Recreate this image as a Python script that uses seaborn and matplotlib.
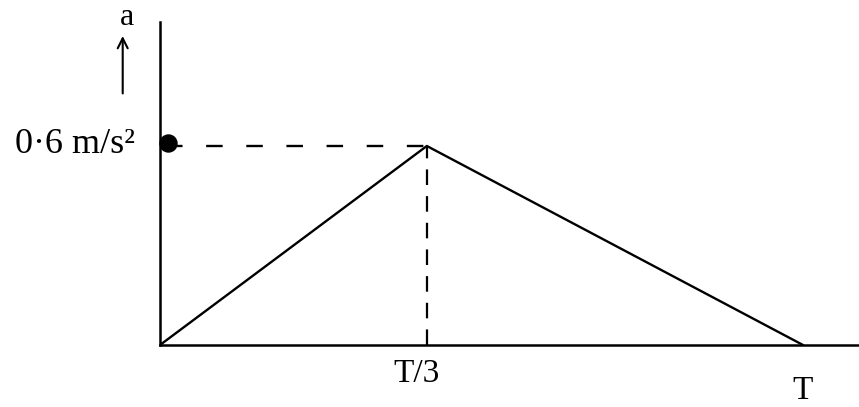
import numpy as np
import pandas as pd
import matplotlib
matplotlib.use("Agg")
import matplotlib.pyplot as plt
import matplotlib.transforms as mtransforms
import seaborn as sns

# acceleration-time graph, t as drawn (in units of T; the peak is labelled T/3)
t_pts = [0, 0.415, 1]
a_pts = [0, 0.6, 0]
a_peak = 0.6
t_peak = 0.415
tick_pos = [0.415, 1]
tick_labels = ["T/3", "T"]

sns.set_theme(style="white")
plt.rcParams['font.family'] = ['Liberation Serif', 'DejaVu Serif']
plt.rcParams['text.color'] = 'black'
plt.rcParams['xtick.color'] = 'black'

fig = plt.figure(figsize=(8.59, 4.07), dpi=100)
ax = fig.add_axes([160/859, 62/407, 699/859, 323/407])

df = pd.DataFrame({"t": t_pts, "a": a_pts})
sns.lineplot(data=df, x="t", y="a", ax=ax, color="black", linewidth=1.7, sort=False)

# dashed guides to the peak
ax.plot([0.01, t_peak], [a_peak, a_peak], ls=(0, (7, 10)), color="black", lw=1.7)
ax.plot([t_peak, t_peak], [0, a_peak], ls=(0, (7, 5)), color="black", lw=1.6)
ax.scatter([0.012], [a_peak + 0.01], s=150, color="black", zorder=5, clip_on=False)

ax.set_xlim(0, 699/643)
ax.set_ylim(0, 323/331.7)
sns.despine(ax=ax)
for s in ["left", "bottom"]:
    ax.spines[s].set_color("black")
    ax.spines[s].set_linewidth(1.8)
ax.set_xticks(tick_pos)
ax.set_xticklabels(tick_labels, fontsize=24, color="black")
ax.tick_params(axis="x", length=0, pad=10)
ax.get_xticklabels()[1].set_y(-0.05)
lab0 = ax.get_xticklabels()[0]
lab0.set_transform(lab0.get_transform() + mtransforms.ScaledTranslation(-0.1, 0, fig.dpi_scale_trans))
ax.set_yticks([])
ax.set_xlabel("")
ax.set_ylabel("")

ax.text(-0.039, a_peak + 0.005, "0·6 m/s²", fontsize=26, ha="right", va="center")
ax.annotate("", xy=(-0.058, 0.94), xytext=(-0.058, 0.75), annotation_clip=False,
            arrowprops=dict(arrowstyle="->", color="black", lw=1.5, mutation_scale=18))
ax.text(-0.052, 0.945, "a", fontsize=23, ha="center", va="bottom")

fig.savefig("out.png", dpi=100)
